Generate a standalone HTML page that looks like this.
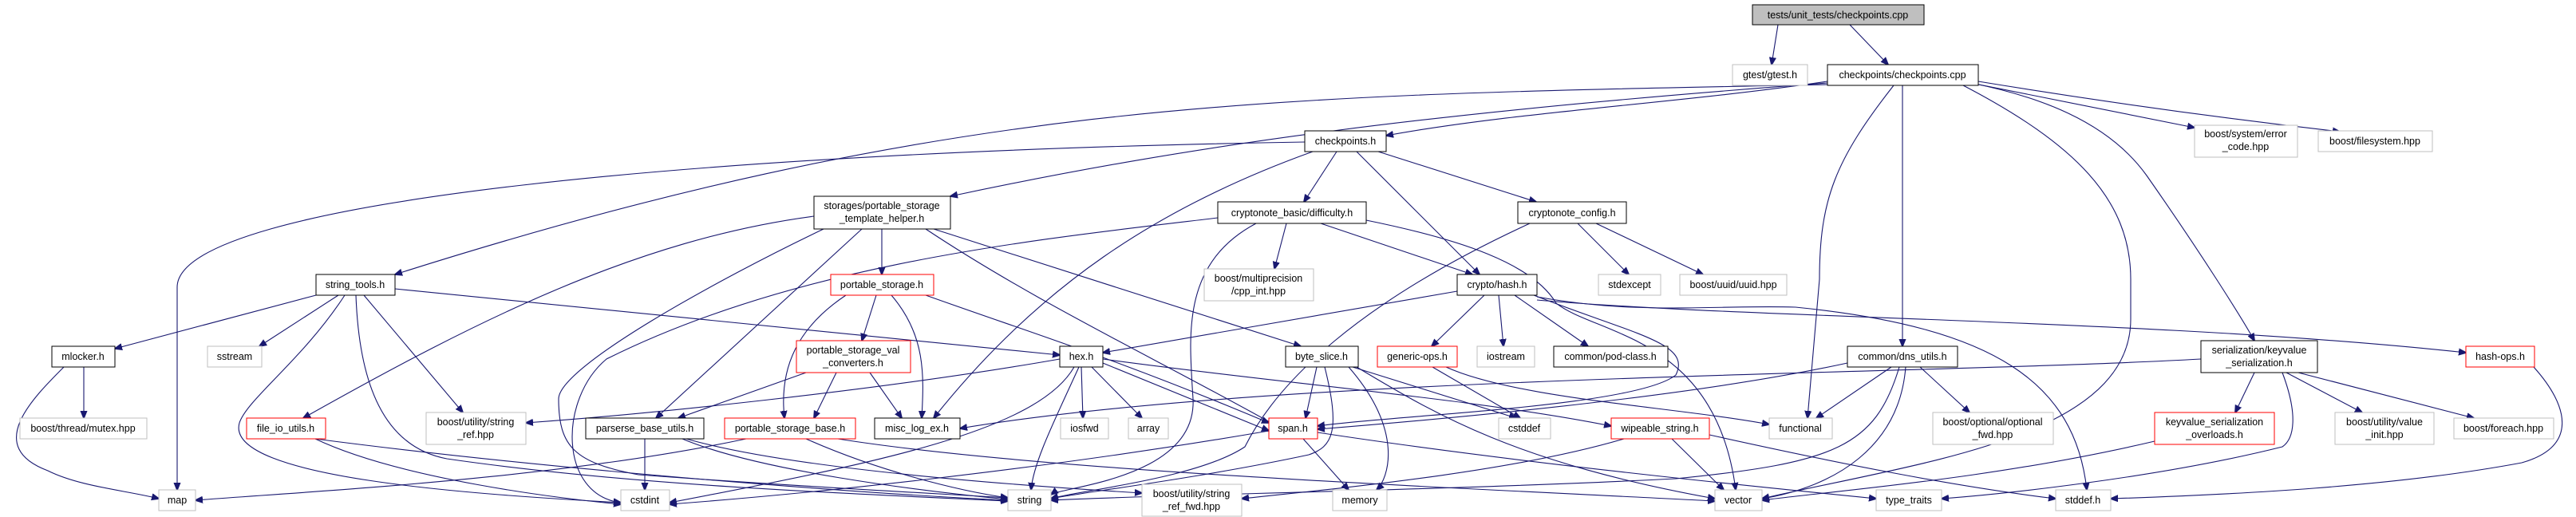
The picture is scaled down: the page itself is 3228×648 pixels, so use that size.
<!DOCTYPE html>
<html><head><meta charset="utf-8"><style>
html,body{margin:0;padding:0;background:#fff;}
svg{display:block;}
text{font-family:"Liberation Sans",Arial,sans-serif;font-size:12.5px;fill:#000;}
.e{fill:none;stroke:#191970;stroke-width:1.1;}
</style></head><body>
<svg width="3228" height="648" viewBox="0 0 3228 648" xmlns="http://www.w3.org/2000/svg">
<defs><marker id="a" viewBox="0 0 10 10" refX="9" refY="5" markerWidth="10" markerHeight="10" markerUnits="userSpaceOnUse" orient="auto"><path d="M0,1 L10,5 L0,9 Z" fill="#191970" stroke="#191970"/></marker></defs>
<g marker-end="url(#a)">
<path class="e" d="M2228,31 L2220,81"/>
<path class="e" d="M2318,31 L2366,81"/>
<path class="e" d="M2290,102 C2100,130 1900,140 1737,170"/>
<path class="e" d="M2290,104 C1800,140 1500,180 1191,246"/>
<path class="e" d="M2290,106 C1600,120 1200,120 495,344"/>
<path class="e" d="M1635,178 C900,190 222,250 222,360 L222,614"/>
<path class="e" d="M2373,107 C2300,200 2280,250 2280,350 L2265,524"/>
<path class="e" d="M2384,107 L2384,434"/>
<path class="e" d="M2460,107 C2600,180 2670,250 2670,350 L2670,400 C2670,550 2400,580 2208,625"/>
<path class="e" d="M2470,104 C2550,120 2640,150 2690,220 C2760,320 2810,400 2825,427"/>
<path class="e" d="M2470,104 L2750,160"/>
<path class="e" d="M2479,102 C2650,130 2800,150 2932,165"/>
<path class="e" d="M1645,190 C1450,260 1300,360 1170,524"/>
<path class="e" d="M1675,190 L1634,253"/>
<path class="e" d="M1700,190 L1854,344"/>
<path class="e" d="M1727,190 L1925,253"/>
<path class="e" d="M1526,273 C1300,300 1000,330 760,450 C700,500 700,620 778,630"/>
<path class="e" d="M1574,280 C1480,330 1490,420 1495,500 C1500,600 1330,610 1317,620"/>
<path class="e" d="M1612,280 L1597,337"/>
<path class="e" d="M1655,280 L1845,344"/>
<path class="e" d="M1712,276 C1830,300 1920,330 1950,380 C2000,420 2150,420 2175,614"/>
<path class="e" d="M1917,280 C1700,380 1600,480 1560,560 C1500,600 1350,615 1317,625"/>
<path class="e" d="M1977,280 L2041,344"/>
<path class="e" d="M2000,280 L2134,344"/>
<path class="e" d="M1826,365 L1382,442"/>
<path class="e" d="M1860,370 L1794,434"/>
<path class="e" d="M1878,370 L1884,434"/>
<path class="e" d="M1898,370 L1990,434"/>
<path class="e" d="M1922,370 C2050,420 2120,430 2100,470 C2050,510 1750,520 1651,534"/>
<path class="e" d="M1926,376 C2200,400 2700,400 3090,442"/>
<path class="e" d="M1926,372 C2050,395 2150,382 2250,385 C2500,410 2600,480 2615,614"/>
<path class="e" d="M396,370 L144,437"/>
<path class="e" d="M424,370 L325,434"/>
<path class="e" d="M432,370 C380,450 310,500 300,530 C280,600 600,620 778,630"/>
<path class="e" d="M446,370 C450,480 480,560 560,575 C800,610 1100,620 1263,628"/>
<path class="e" d="M456,370 L580,517"/>
<path class="e" d="M495,362 L1328,445"/>
<path class="e" d="M105,460 L105,524"/>
<path class="e" d="M80,460 C40,500 -20,560 60,590 C100,610 160,615 199,625"/>
<path class="e" d="M1020,271 C800,300 600,400 380,524"/>
<path class="e" d="M1080,287 L822,524"/>
<path class="e" d="M1105,287 L1105,344"/>
<path class="e" d="M1032,287 C900,350 700,460 700,500 C700,560 720,580 800,595 C1000,610 1200,620 1263,624"/>
<path class="e" d="M1160,287 C1300,380 1450,450 1600,534"/>
<path class="e" d="M1170,287 L1630,434"/>
<path class="e" d="M1098,370 L1080,427"/>
<path class="e" d="M1060,370 C1000,410 976,460 983,524"/>
<path class="e" d="M1117,370 C1160,420 1158,470 1155,524"/>
<path class="e" d="M1160,370 C1300,420 1400,450 1590,530"/>
<path class="e" d="M1010,467 L850,524"/>
<path class="e" d="M1048,467 L1020,524"/>
<path class="e" d="M1090,467 L1130,524"/>
<path class="e" d="M1328,450 C1100,490 800,520 659,530"/>
<path class="e" d="M1346,460 C1300,540 1100,580 839,630"/>
<path class="e" d="M1352,460 C1320,530 1295,580 1292,614"/>
<path class="e" d="M1355,460 L1357,524"/>
<path class="e" d="M1368,460 L1431,524"/>
<path class="e" d="M1382,455 L1590,540"/>
<path class="e" d="M1382,450 C1600,480 1850,500 2019,534"/>
<path class="e" d="M1650,460 L1636,524"/>
<path class="e" d="M1660,460 C1680,540 1670,560 1640,570 C1500,600 1350,618 1317,625"/>
<path class="e" d="M1690,460 C1760,540 1740,600 1725,614"/>
<path class="e" d="M1695,460 L1900,524"/>
<path class="e" d="M1700,460 C1800,520 1900,580 2149,625"/>
<path class="e" d="M1795,460 L1905,524"/>
<path class="e" d="M1812,460 C1900,500 2100,510 2217,532"/>
<path class="e" d="M1633,550 L1690,614"/>
<path class="e" d="M1651,542 C1900,580 2200,610 2351,625"/>
<path class="e" d="M1590,540 C1300,590 1000,620 839,632"/>
<path class="e" d="M2095,550 L2160,614"/>
<path class="e" d="M2035,550 C1900,590 1700,610 1556,625"/>
<path class="e" d="M2142,545 C2300,580 2450,610 2576,625"/>
<path class="e" d="M808,550 L808,614"/>
<path class="e" d="M855,550 C950,590 1150,615 1263,626"/>
<path class="e" d="M860,550 C1000,590 1300,610 1431,618"/>
<path class="e" d="M935,550 C700,600 400,615 245,627"/>
<path class="e" d="M1010,550 C1100,590 1200,615 1263,624"/>
<path class="e" d="M1050,550 C1300,590 1800,610 2149,628"/>
<path class="e" d="M395,550 C500,600 700,625 778,632"/>
<path class="e" d="M395,550 C700,590 1100,620 1263,627"/>
<path class="e" d="M2370,460 L2276,524"/>
<path class="e" d="M2406,460 L2468,517"/>
<path class="e" d="M2388,460 C2380,560 2300,610 2208,625"/>
<path class="e" d="M2380,460 C2350,560 2300,580 2100,600 C1800,615 1450,620 1317,627"/>
<path class="e" d="M2315,455 C2200,480 2000,510 1651,538"/>
<path class="e" d="M2758,450 C2400,470 1600,470 1203,537"/>
<path class="e" d="M2825,467 L2801,517"/>
<path class="e" d="M2865,467 L2960,517"/>
<path class="e" d="M2880,467 L3100,524"/>
<path class="e" d="M2860,467 C2880,520 2875,550 2860,560 C2700,600 2500,620 2433,625"/>
<path class="e" d="M2700,553 C2500,600 2300,615 2208,627"/>
<path class="e" d="M3175,460 C3220,510 3230,560 3160,580 C3000,610 2800,620 2645,625"/>
</g>
<g>
<rect x="2196" y="6" width="215" height="25" fill="#bfbfbf" stroke="#000"/><text x="2303" y="23" text-anchor="middle">tests/unit_tests/checkpoints.cpp</text>
<rect x="2171" y="81" width="94" height="26" fill="#fff" stroke="#bfbfbf"/><text x="2218" y="98" text-anchor="middle">gtest/gtest.h</text>
<rect x="2290" y="81" width="189" height="26" fill="#fff" stroke="#000"/><text x="2384" y="98" text-anchor="middle">checkpoints/checkpoints.cpp</text>
<rect x="2750" y="157" width="129" height="40" fill="#fff" stroke="#bfbfbf"/><text x="2814" y="172" text-anchor="middle">boost/system/error</text><text x="2814" y="188" text-anchor="middle">_code.hpp</text>
<rect x="2905" y="164" width="143" height="26" fill="#fff" stroke="#bfbfbf"/><text x="2976" y="181" text-anchor="middle">boost/filesystem.hpp</text>
<rect x="1635" y="164" width="102" height="26" fill="#fff" stroke="#000"/><text x="1686" y="181" text-anchor="middle">checkpoints.h</text>
<rect x="1020" y="246" width="171" height="41" fill="#fff" stroke="#000"/><text x="1105" y="262" text-anchor="middle">storages/portable_storage</text><text x="1105" y="278" text-anchor="middle">_template_helper.h</text>
<rect x="1526" y="253" width="186" height="27" fill="#fff" stroke="#000"/><text x="1619" y="271" text-anchor="middle">cryptonote_basic/difficulty.h</text>
<rect x="1902" y="253" width="136" height="27" fill="#fff" stroke="#000"/><text x="1970" y="271" text-anchor="middle">cryptonote_config.h</text>
<rect x="396" y="344" width="99" height="26" fill="#fff" stroke="#000"/><text x="445" y="361" text-anchor="middle">string_tools.h</text>
<rect x="1041" y="344" width="129" height="26" fill="#fff" stroke="#f00"/><text x="1105" y="361" text-anchor="middle">portable_storage.h</text>
<rect x="1509" y="337" width="137" height="40" fill="#fff" stroke="#bfbfbf"/><text x="1577" y="353" text-anchor="middle">boost/multiprecision</text><text x="1577" y="369" text-anchor="middle">/cpp_int.hpp</text>
<rect x="1826" y="344" width="100" height="26" fill="#fff" stroke="#000"/><text x="1876" y="361" text-anchor="middle">crypto/hash.h</text>
<rect x="2003" y="344" width="78" height="26" fill="#fff" stroke="#bfbfbf"/><text x="2042" y="361" text-anchor="middle">stdexcept</text>
<rect x="2105" y="344" width="134" height="26" fill="#fff" stroke="#bfbfbf"/><text x="2172" y="361" text-anchor="middle">boost/uuid/uuid.hpp</text>
<rect x="65" y="434" width="79" height="26" fill="#fff" stroke="#000"/><text x="104" y="451" text-anchor="middle">mlocker.h</text>
<rect x="260" y="434" width="68" height="26" fill="#fff" stroke="#bfbfbf"/><text x="294" y="451" text-anchor="middle">sstream</text>
<rect x="998" y="427" width="143" height="40" fill="#fff" stroke="#f00"/><text x="1069" y="443" text-anchor="middle">portable_storage_val</text><text x="1069" y="459" text-anchor="middle">_converters.h</text>
<rect x="1328" y="434" width="54" height="26" fill="#fff" stroke="#000"/><text x="1355" y="451" text-anchor="middle">hex.h</text>
<rect x="1611" y="434" width="91" height="26" fill="#fff" stroke="#000"/><text x="1656" y="451" text-anchor="middle">byte_slice.h</text>
<rect x="1726" y="434" width="100" height="26" fill="#fff" stroke="#f00"/><text x="1776" y="451" text-anchor="middle">generic-ops.h</text>
<rect x="1851" y="434" width="72" height="26" fill="#fff" stroke="#bfbfbf"/><text x="1887" y="451" text-anchor="middle">iostream</text>
<rect x="1947" y="434" width="143" height="26" fill="#fff" stroke="#000"/><text x="2018" y="451" text-anchor="middle">common/pod-class.h</text>
<rect x="2315" y="434" width="138" height="26" fill="#fff" stroke="#000"/><text x="2384" y="451" text-anchor="middle">common/dns_utils.h</text>
<rect x="2758" y="427" width="146" height="40" fill="#fff" stroke="#000"/><text x="2831" y="443" text-anchor="middle">serialization/keyvalue</text><text x="2831" y="459" text-anchor="middle">_serialization.h</text>
<rect x="3090" y="434" width="86" height="26" fill="#fff" stroke="#f00"/><text x="3133" y="451" text-anchor="middle">hash-ops.h</text>
<rect x="25" y="524" width="159" height="26" fill="#fff" stroke="#bfbfbf"/><text x="104" y="541" text-anchor="middle">boost/thread/mutex.hpp</text>
<rect x="309" y="524" width="99" height="26" fill="#fff" stroke="#f00"/><text x="358" y="541" text-anchor="middle">file_io_utils.h</text>
<rect x="534" y="517" width="125" height="40" fill="#fff" stroke="#bfbfbf"/><text x="596" y="533" text-anchor="middle">boost/utility/string</text><text x="596" y="549" text-anchor="middle">_ref.hpp</text>
<rect x="734" y="524" width="148" height="26" fill="#fff" stroke="#000"/><text x="808" y="541" text-anchor="middle">parserse_base_utils.h</text>
<rect x="908" y="524" width="164" height="26" fill="#fff" stroke="#f00"/><text x="990" y="541" text-anchor="middle">portable_storage_base.h</text>
<rect x="1096" y="524" width="107" height="26" fill="#fff" stroke="#000"/><text x="1149" y="541" text-anchor="middle">misc_log_ex.h</text>
<rect x="1329" y="524" width="60" height="26" fill="#fff" stroke="#bfbfbf"/><text x="1359" y="541" text-anchor="middle">iosfwd</text>
<rect x="1414" y="524" width="50" height="26" fill="#fff" stroke="#bfbfbf"/><text x="1439" y="541" text-anchor="middle">array</text>
<rect x="1590" y="524" width="61" height="26" fill="#fff" stroke="#f00"/><text x="1620" y="541" text-anchor="middle">span.h</text>
<rect x="1878" y="524" width="65" height="26" fill="#fff" stroke="#bfbfbf"/><text x="1910" y="541" text-anchor="middle">cstddef</text>
<rect x="2019" y="524" width="123" height="26" fill="#fff" stroke="#f00"/><text x="2080" y="541" text-anchor="middle">wipeable_string.h</text>
<rect x="2217" y="524" width="79" height="26" fill="#fff" stroke="#bfbfbf"/><text x="2256" y="541" text-anchor="middle">functional</text>
<rect x="2422" y="517" width="151" height="40" fill="#fff" stroke="#bfbfbf"/><text x="2497" y="533" text-anchor="middle">boost/optional/optional</text><text x="2497" y="549" text-anchor="middle">_fwd.hpp</text>
<rect x="2700" y="517" width="150" height="40" fill="#fff" stroke="#f00"/><text x="2775" y="533" text-anchor="middle">keyvalue_serialization</text><text x="2775" y="549" text-anchor="middle">_overloads.h</text>
<rect x="2926" y="517" width="124" height="40" fill="#fff" stroke="#bfbfbf"/><text x="2988" y="533" text-anchor="middle">boost/utility/value</text><text x="2988" y="549" text-anchor="middle">_init.hpp</text>
<rect x="3075" y="524" width="125" height="26" fill="#fff" stroke="#bfbfbf"/><text x="3137" y="541" text-anchor="middle">boost/foreach.hpp</text>
<rect x="199" y="614" width="46" height="26" fill="#fff" stroke="#bfbfbf"/><text x="222" y="631" text-anchor="middle">map</text>
<rect x="778" y="614" width="61" height="26" fill="#fff" stroke="#bfbfbf"/><text x="808" y="631" text-anchor="middle">cstdint</text>
<rect x="1263" y="614" width="54" height="26" fill="#fff" stroke="#bfbfbf"/><text x="1290" y="631" text-anchor="middle">string</text>
<rect x="1431" y="607" width="125" height="40" fill="#fff" stroke="#bfbfbf"/><text x="1493" y="623" text-anchor="middle">boost/utility/string</text><text x="1493" y="639" text-anchor="middle">_ref_fwd.hpp</text>
<rect x="1670" y="614" width="68" height="26" fill="#fff" stroke="#bfbfbf"/><text x="1704" y="631" text-anchor="middle">memory</text>
<rect x="2149" y="614" width="59" height="26" fill="#fff" stroke="#bfbfbf"/><text x="2178" y="631" text-anchor="middle">vector</text>
<rect x="2351" y="614" width="82" height="26" fill="#fff" stroke="#bfbfbf"/><text x="2392" y="631" text-anchor="middle">type_traits</text>
<rect x="2576" y="614" width="69" height="26" fill="#fff" stroke="#bfbfbf"/><text x="2610" y="631" text-anchor="middle">stddef.h</text>
</g>
</svg>
</body></html>
